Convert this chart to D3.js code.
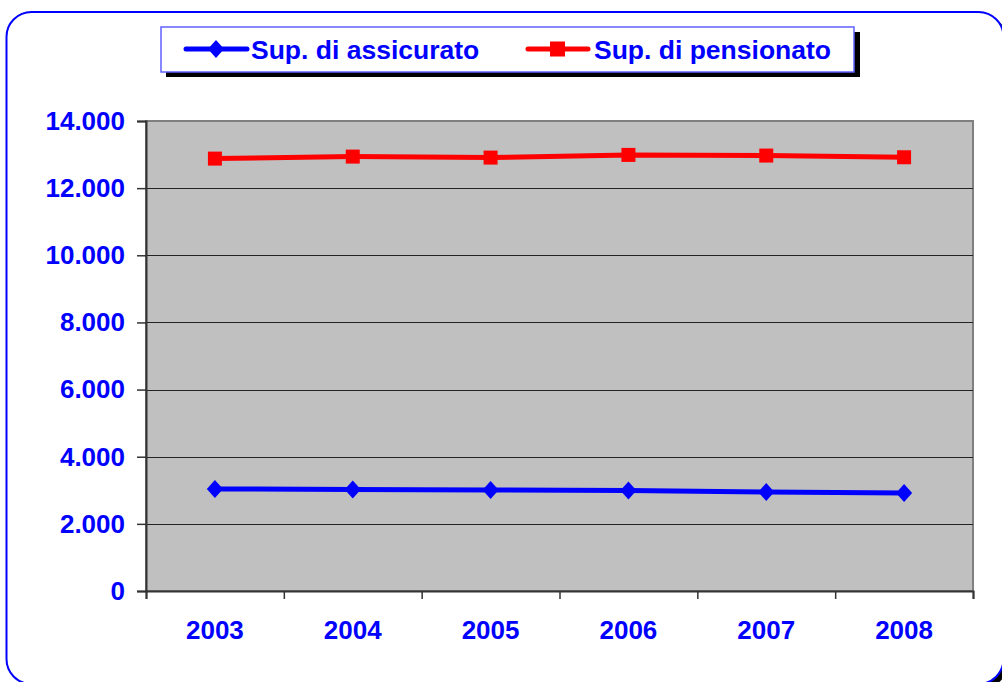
<!DOCTYPE html>
<html>
<head>
<meta charset="utf-8">
<script src="https://cdn.jsdelivr.net/npm/d3@7"></script>
<style>
  html, body { margin: 0; padding: 0; background: #fff; }
  svg text { font-family: 'Liberation Sans', Arial, sans-serif; font-weight: bold; fill: #0000ff; }
</style>
</head>
<body>
<div id="chart"></div>
<script>
const years = ['2003', '2004', '2005', '2006', '2007', '2008']
const assicurato = [3040, 3025, 3010, 2990, 2950, 2920]
const pensionato = [12880, 12940, 12910, 12990, 12970, 12920]
const yTicks = [0, 2000, 4000, 6000, 8000, 10000, 12000, 14000]
const seriesNames = ['Sup. di assicurato', 'Sup. di pensionato']

const width = 1002
const height = 682
const margin = { top: 121, right: 29, bottom: 91, left: 146 }

const svg = d3
  .select('#chart')
  .append('svg')
  .attr('width', width)
  .attr('height', height)

// outer frame with shadow
svg
  .append('rect')
  .attr('x', 11)
  .attr('y', 16)
  .attr('width', 997)
  .attr('height', 672)
  .attr('rx', 25)
  .attr('fill', '#000')
svg
  .append('rect')
  .attr('x', 6.5)
  .attr('y', 12)
  .attr('width', 997)
  .attr('height', 672)
  .attr('rx', 25)
  .attr('fill', '#fff')
  .attr('stroke', '#0000ff')
  .attr('stroke-width', 2)

const x0 = margin.left
const x1 = width - margin.right
const y0 = height - margin.bottom
const y1 = margin.top

const xScale = d3.scaleBand().domain(years).range([x0, x1])
const xTickScale = d3.scaleLinear().domain([0, years.length]).range([x0, x1])
const yScale = d3.scaleLinear().domain([0, 14000]).range([y0, y1])

// plot area
svg
  .append('rect')
  .attr('x', x0)
  .attr('y', y1)
  .attr('width', x1 - x0)
  .attr('height', y0 - y1)
  .attr('fill', '#c0c0c0')
  .attr('stroke', '#808080')
  .attr('stroke-width', 2)

// gridlines
svg
  .append('g')
  .selectAll('line')
  .data(yTicks.filter((d) => d > 0 && d < 14000))
  .enter()
  .append('line')
  .attr('x1', x0)
  .attr('x2', x1)
  .attr('y1', (d) => Math.round(yScale(d)) + 0.5)
  .attr('y2', (d) => Math.round(yScale(d)) + 0.5)
  .attr('stroke', '#222')
  .attr('stroke-width', 1)

const fmt = (d) => d3.format(',')(d).replace(/,/g, '.')

// y axis
const yAxisG = svg
  .append('g')
  .attr('transform', `translate(${x0}, 0)`)
  .call(d3.axisLeft(yScale).tickValues(yTicks).tickFormat(fmt).tickSize(9).tickPadding(12))
yAxisG.selectAll('line, path').attr('stroke', '#333').attr('stroke-width', 1.5)
yAxisG.select('.domain').attr('stroke-width', 2)
yAxisG.selectAll('text').attr('font-size', 26).attr('fill', '#0000ff')

// x axis boundary ticks
const xTickG = svg
  .append('g')
  .attr('transform', `translate(0, ${y0})`)
  .call(d3.axisBottom(xTickScale).ticks(years.length).tickFormat('').tickSize(8))
xTickG.selectAll('line, path').attr('stroke', '#333').attr('stroke-width', 1.5)
xTickG.select('.domain').attr('stroke-width', 2)

// x axis labels
const xAxisG = svg
  .append('g')
  .attr('transform', `translate(0, ${y0})`)
  .call(d3.axisBottom(xScale).tickSize(0).tickPadding(30))
xAxisG.select('.domain').remove()
xAxisG.selectAll('text').attr('font-size', 26).attr('fill', '#0000ff')

const cx = (i) => xScale(years[i]) + xScale.bandwidth() / 2
const line = d3
  .line()
  .x((d, i) => cx(i))
  .y((d) => yScale(d))

const diamond = (s) => `M0,${-s}L${s * 0.9},0L0,${s}L${-s * 0.9},0Z`

// red series
svg
  .append('path')
  .datum(pensionato)
  .attr('d', line)
  .attr('fill', 'none')
  .attr('stroke', '#ff0000')
  .attr('stroke-width', 5)
svg
  .append('g')
  .selectAll('rect')
  .data(pensionato)
  .enter()
  .append('rect')
  .attr('x', (d, i) => cx(i) - 7)
  .attr('y', (d) => yScale(d) - 7)
  .attr('width', 14)
  .attr('height', 14)
  .attr('fill', '#ff0000')

// blue series
svg
  .append('path')
  .datum(assicurato)
  .attr('d', line)
  .attr('fill', 'none')
  .attr('stroke', '#0000ff')
  .attr('stroke-width', 5)
svg
  .append('g')
  .selectAll('path')
  .data(assicurato)
  .enter()
  .append('path')
  .attr('d', diamond(9))
  .attr('transform', (d, i) => `translate(${cx(i)}, ${yScale(d)})`)
  .attr('fill', '#0000ff')

// Legend
const legend = svg.append('g')
legend
  .append('rect')
  .attr('x', 166)
  .attr('y', 32)
  .attr('width', 694)
  .attr('height', 45)
  .attr('fill', '#000')
legend
  .append('rect')
  .attr('x', 161)
  .attr('y', 27)
  .attr('width', 693)
  .attr('height', 45)
  .attr('fill', '#fff')
  .attr('stroke', '#6060ff')
  .attr('stroke-width', 1.5)

const ly = 49
// blue item
legend
  .append('line')
  .attr('x1', 186)
  .attr('x2', 247)
  .attr('y1', ly)
  .attr('y2', ly)
  .attr('stroke', '#0000ff')
  .attr('stroke-width', 5)
  .attr('stroke-linecap', 'round')
legend
  .append('path')
  .attr('d', diamond(9))
  .attr('transform', `translate(216, ${ly})`)
  .attr('fill', '#0000ff')
legend
  .append('text')
  .attr('x', 251)
  .attr('y', 59)
  .attr('font-size', 26.5)
  .text(seriesNames[0])

// red item
legend
  .append('line')
  .attr('x1', 528)
  .attr('x2', 588)
  .attr('y1', ly)
  .attr('y2', ly)
  .attr('stroke', '#ff0000')
  .attr('stroke-width', 5)
  .attr('stroke-linecap', 'round')
legend
  .append('rect')
  .attr('x', 550)
  .attr('y', ly - 7.5)
  .attr('width', 15)
  .attr('height', 15)
  .attr('fill', '#ff0000')
legend
  .append('text')
  .attr('x', 594)
  .attr('y', 59)
  .attr('font-size', 26.5)
  .text(seriesNames[1])
</script>
</body>
</html>
